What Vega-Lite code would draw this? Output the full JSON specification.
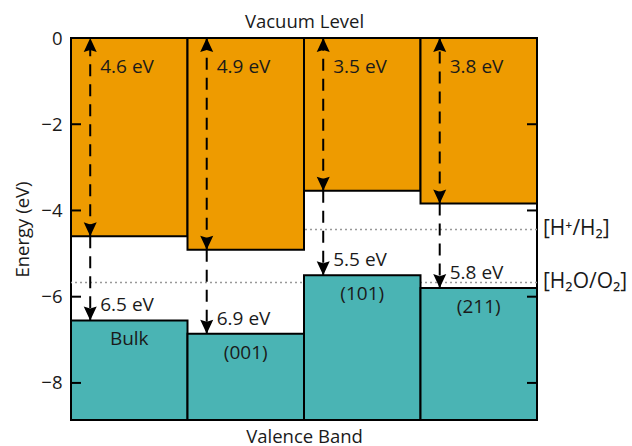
{
  "$schema": "https://vega.github.io/schema/vega-lite/v6.json",
  "width": 466,
  "height": 382,
  "autosize": {"type": "none"},
  "padding": {"left": 71, "top": 38, "right": 95, "bottom": 26},
  "background": "white",
  "config": {
    "view": {"stroke": "#000", "strokeWidth": 2},
    "font": "Open Sans",
    "text": {"font": "Open Sans", "fontSize": 19, "color": "#1a1a1a"},
    "axis": {"labelFont": "Open Sans", "titleFont": "Open Sans", "labelColor": "#1a1a1a", "titleColor": "#1a1a1a", "titleFontWeight": "normal", "grid": false}
  },
  "datasets": {
    "surfaces": [
      {"surface": "Bulk", "cb": -4.6, "vb": -6.55, "cbLabel": "4.6 eV", "vbLabel": "6.5 eV"},
      {"surface": "(001)", "cb": -4.91, "vb": -6.86, "cbLabel": "4.9 eV", "vbLabel": "6.9 eV"},
      {"surface": "(101)", "cb": -3.54, "vb": -5.5, "cbLabel": "3.5 eV", "vbLabel": "5.5 eV"},
      {"surface": "(211)", "cb": -3.84, "vb": -5.8, "cbLabel": "3.8 eV", "vbLabel": "5.8 eV"}
    ],
    "levels": [
      {"level": "[H⁺/H₂]", "energy": -4.44},
      {"level": "[H₂O/O₂]", "energy": -5.67}
    ],
    "ticks": [
      {"energy": -2},
      {"energy": -4},
      {"energy": -6},
      {"energy": -8}
    ]
  },
  "resolve": {"axis": {"x": "independent", "y": "independent"}},
  "layer": [
    {
      "data": {"name": "levels"},
      "mark": {"type": "rule", "color": "#999999", "strokeWidth": 1.5, "strokeDash": [2, 3]},
      "encoding": {
        "y": {"field": "energy", "type": "quantitative", "axis": null, "scale": {"domain": [-8.86, 0], "nice": false, "zero": false}}
      }
    },
    {
      "data": {"name": "surfaces"},
      "mark": {"type": "bar", "color": "#EE9B00", "stroke": "#000", "strokeWidth": 2},
      "encoding": {
        "x": {"field": "surface", "type": "nominal", "sort": null, "scale": {"paddingInner": 0, "paddingOuter": 0},
              "axis": {"orient": "top", "title": "Vacuum Level", "labels": false, "ticks": false, "domain": false, "titleFontSize": 18.5, "titlePadding": 7}},
        "y": {"field": "cb", "type": "quantitative", "scale": {"domain": [-8.86, 0], "nice": false, "zero": false},
              "axis": {"orient": "left", "values": [0, -2, -4, -6, -8], "title": "Energy (eV)", "titleFontSize": 18.5, "labelFontSize": 18.5, "ticks": false, "labelPadding": 9, "domain": false, "titlePadding": 8}},
        "y2": {"datum": 0}
      }
    },
    {
      "data": {"name": "surfaces"},
      "mark": {"type": "bar", "color": "#4AB4B4", "stroke": "#000", "strokeWidth": 2},
      "encoding": {
        "x": {"field": "surface", "type": "nominal", "sort": null, "scale": {"paddingInner": 0, "paddingOuter": 0},
              "axis": {"orient": "bottom", "title": "Valence Band", "labels": false, "ticks": false, "domain": false, "titleFontSize": 18.5, "titlePadding": 7}},
        "y": {"field": "vb", "type": "quantitative", "scale": {"domain": [-8.86, 0], "nice": false, "zero": false}, "axis": null},
        "y2": {"datum": -8.86}
      }
    },
    {
      "data": {"name": "ticks"},
      "mark": {"type": "tick", "orient": "horizontal", "color": "#000", "opacity": 1, "size": 10, "thickness": 2, "xOffset": 5},
      "encoding": {
        "x": {"value": 0},
        "y": {"field": "energy", "type": "quantitative", "axis": null}
      }
    },
    {
      "data": {"name": "ticks"},
      "mark": {"type": "tick", "orient": "horizontal", "color": "#000", "opacity": 1, "size": 10, "thickness": 2, "xOffset": -5},
      "encoding": {
        "x": {"value": "width"},
        "y": {"field": "energy", "type": "quantitative", "axis": null}
      }
    },
    {
      "data": {"name": "surfaces"},
      "mark": {"type": "rule", "color": "#000", "strokeWidth": 2, "strokeDash": [12, 8]},
      "encoding": {
        "x": {"field": "surface", "type": "nominal", "sort": null, "bandPosition": 0.165, "axis": null},
        "y": {"field": "cb", "type": "quantitative", "axis": null},
        "y2": {"datum": 0}
      }
    },
    {
      "data": {"name": "surfaces"},
      "mark": {"type": "rule", "color": "#000", "strokeWidth": 2, "strokeDash": [12, 8]},
      "encoding": {
        "x": {"field": "surface", "type": "nominal", "sort": null, "bandPosition": 0.165, "axis": null},
        "y": {"field": "cb", "type": "quantitative", "axis": null},
        "y2": {"field": "vb"}
      }
    },
    {
      "data": {"name": "surfaces"},
      "mark": {"type": "point", "filled": true, "color": "#000", "opacity": 1, "size": 196, "shape": "M0,0 L-0.93,2 L0,1.7 L0.93,2 Z", "y": 0},
      "encoding": {
        "x": {"field": "surface", "type": "nominal", "sort": null, "bandPosition": 0.165, "axis": null}
      }
    },
    {
      "data": {"name": "surfaces"},
      "mark": {"type": "point", "filled": true, "color": "#000", "opacity": 1, "size": 196, "shape": "M0,0 L-0.93,-2 L0,-1.7 L0.93,-2 Z"},
      "encoding": {
        "x": {"field": "surface", "type": "nominal", "sort": null, "bandPosition": 0.165, "axis": null},
        "y": {"field": "cb", "type": "quantitative", "axis": null}
      }
    },
    {
      "data": {"name": "surfaces"},
      "mark": {"type": "point", "filled": true, "color": "#000", "opacity": 1, "size": 196, "shape": "M0,0 L-0.93,-2 L0,-1.7 L0.93,-2 Z"},
      "encoding": {
        "x": {"field": "surface", "type": "nominal", "sort": null, "bandPosition": 0.165, "axis": null},
        "y": {"field": "vb", "type": "quantitative", "axis": null}
      }
    },
    {
      "data": {"name": "surfaces"},
      "mark": {"type": "text", "align": "left", "baseline": "middle", "dx": 10, "y": 29},
      "encoding": {
        "x": {"field": "surface", "type": "nominal", "sort": null, "bandPosition": 0.165, "axis": null},
        "text": {"field": "cbLabel"}
      }
    },
    {
      "data": {"name": "surfaces"},
      "mark": {"type": "text", "align": "left", "baseline": "middle", "dx": 10, "dy": -15},
      "encoding": {
        "x": {"field": "surface", "type": "nominal", "sort": null, "bandPosition": 0.165, "axis": null},
        "y": {"field": "vb", "type": "quantitative", "axis": null},
        "text": {"field": "vbLabel"}
      }
    },
    {
      "data": {"name": "surfaces"},
      "mark": {"type": "text", "align": "center", "baseline": "middle", "dy": 19},
      "encoding": {
        "x": {"field": "surface", "type": "nominal", "sort": null, "axis": null},
        "y": {"field": "vb", "type": "quantitative", "axis": null},
        "text": {"field": "surface"}
      }
    },
    {
      "data": {"name": "levels"},
      "mark": {"type": "text", "align": "left", "baseline": "middle", "dx": 6, "fontSize": 21},
      "encoding": {
        "x": {"value": "width"},
        "y": {"field": "energy", "type": "quantitative", "axis": null},
        "text": {"field": "level"}
      }
    }
  ]
}
